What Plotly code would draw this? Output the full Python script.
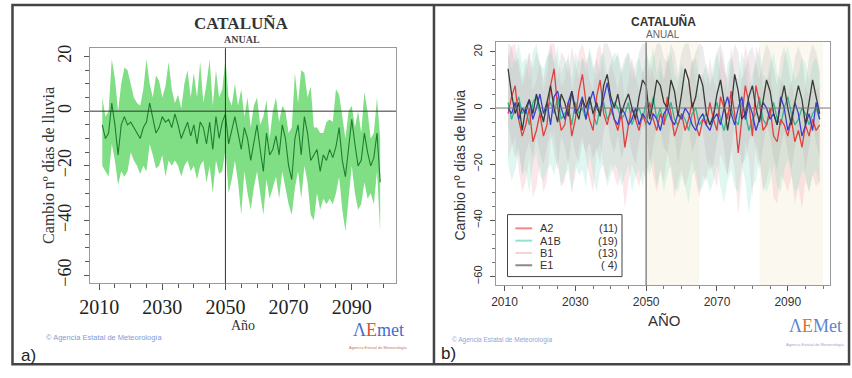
import plotly.graph_objects as go

years = list(range(2011, 2100))

# ---------- Panel a: ensemble mean and spread ----------
mean_a = [-5, -10, -8, 3, -5, -16, -5, -2, -5, -4,
          -6, -8, -10, -6, -4, 3, -3, -8, -6, -2,
          -4, -3, -6, -1, -5, -10, -7, -4, -9, -5,
          -12, -4, -6, -12, -4, -14, -2, -10, -4, -1,
          -12, -7, -2, -8, -14, -6, -10, -18, -12, -5,
          -14, -22, -8, -16, -14, -9, -16, -5, -10, -20,
          -25, -10, -5, -16, -2, -8, -18, -16, -14, -22,
          -16, -18, -14, -17, -13, -6, -18, -24, -14, -3,
          -12, -20, -18, -8, -15, -20, -17, -8, -26]
upper_a = [5, -2, 0, 19, 12, 0, 10, 16, 15, 10,
           5, 3, 2, 8, 19, 10, 5, 13, 11, 5,
           9, 18, 8, 3, 6, 1, 10, 15, 5, 14,
           5, 18, 3, 10, 19, 2, 15, 5, 8, 19,
           5, 2, 10, 2, 8, -2, 5, -6, 2, 5,
           -5, -2, 4, -10, 0, 5, -4, 2, 0, -8,
           -6, 14, 3, 15, 14, 5, 9, -6, -6, -8,
           -8, -4, -3, -4, 8, 6, -2, -10, 0, 2,
           -6, 0, -8, 7, 0, -10, -8, 5, -10]
lower_a = [-20, -22, -24, -12, -18, -27, -22, -24, -22, -15,
           -18, -20, -23, -20, -22, -12, -16, -21, -20, -16,
           -24, -18, -20, -18, -20, -24, -20, -18, -22, -20,
           -25, -20, -18, -26, -20, -30, -18, -23, -22, -14,
           -30, -25, -18, -26, -38, -22, -30, -36, -28, -22,
           -30, -38, -25, -32, -28, -24, -32, -22, -28, -34,
           -38, -28, -22, -32, -20, -26, -38, -40, -30, -36,
           -32, -34, -32, -34, -30, -24, -36, -44, -32, -20,
           -30, -36, -34, -26, -32, -30, -34, -22, -44]

# ---------- Panel b: scenario means ----------
a2_mean = [-2, 4, 8, -4, -10, -6, 0, -12, -8, -2,
           -10, -6, 8, 14, 0, -8, -6, 2, -10, -4,
           6, 12, 2, -4, -8, 4, 10, -2, -6, 0,
           -4, -8, -2, -14, -6, 0, -4, -8, -2, -6,
           2, -4, -8, -2, -6, 4, -2, -10, -6, -2,
           -8, -4, 2, -6, -10, -4, -6, 2, -4, -8,
           4, 0, -4, 6, -2, -16, -4, 8, 2, -10,
           8, 2, -8, -6, 0, -10, -12, -4, -6, -10,
           -4, -12, -8, -14, -6, -10, -4, -8, -6]
a1b_mean = [2, -4, 0, 4, -2, 0, -6, 2, 4, -2,
            -4, 0, 2, -2, 4, -4, -2, 0, -6, 2,
            -2, 0, -4, 4, -2, -6, 0, 2, -4, -2,
            2, 0, -4, -2, 2, -6, -2, 0, -4, 2,
            -2, 4, -4, 0, -6, -2, 2, -4, -6, -2,
            -4, -8, -2, 0, -6, -4, -2, -6, -2, 2,
            -4, -8, -2, 0, -4, -6, 2, -2, -8, -4,
            -2, 4, -4, -6, -2, 2, -4, -6, 0, 4,
            -2, -6, -4, 0, -2, -6, -2, 0, -4]
b1_mean = [0, -2, 2, -4, 0, -2, 3, -4, 0, 5,
           -2, 2, -6, 4, 6, 0, -4, 2, 6, -2,
           0, 4, -4, 2, 6, 0, -2, 4, 9, 2,
           -4, -6, 0, -2, -6, -4, 0, -6, -2, -4,
           -6, -2, -4, -8, -2, 0, -4, -6, -2, -4,
           0, -2, -6, -8, -4, -2, -6, -8, -4, -2,
           -6, 0, 4, -2, -6, 0, 4, -4, 2, -2,
           -8, -4, 2, 0, -4, -2, -6, 4, 0, -8,
           -4, 2, -2, -10, -6, -2, -8, 2, -4]
e1_mean = [14, 5, -2, 2, -8, 0, 3, -2, 5, 0,
           -5, 2, 8, 0, -5, 5, 2, -3, 6, 0,
           -4, 3, 0, 4, -2, 2, -3, 8, 12, 4,
           0, 5, -2, 2, 5, 0, -4, 4, 10, 8,
           -4, 2, 10, 8, 2, 0, 10, 6, -3, 5,
           14, 10, 0, 4, 12, 8, -2, -6, -3, 5,
           10, 2, -8, 0, 12, 6, -4, -2, 4, 8,
           0, -5, 2, 10, 6, -2, -6, 2, 8, 0,
           -6, 2, 8, 3, -6, 2, 10, 4, -2]

# ---------- Panel b: scenario spreads ----------
a2_hi = [18, 22, 23, 14, 8, 12, 20, 6, 10, 16,
         6, 12, 23, 23, 16, 8, 10, 20, 6, 12,
         20, 23, 18, 10, 6, 20, 23, 14, 8, 16,
         12, 6, 14, 2, 10, 18, 12, 6, 14, 10,
         16, 12, 6, 14, 10, 20, 12, 4, 8, 14,
         6, 10, 18, 10, 4, 12, 8, 18, 10, 6,
         20, 14, 10, 22, 12, 0, 10, 23, 16, 4,
         22, 18, 6, 8, 14, 2, 0, 10, 8, 4,
         10, 2, 6, 0, 8, 4, 10, 6, 8]
a2_lo = [-18, -14, -10, -22, -30, -26, -18, -32, -28, -20,
         -30, -26, -12, -8, -20, -28, -26, -18, -30, -24,
         -14, -10, -18, -24, -30, -16, -12, -22, -26, -20,
         -24, -28, -22, -36, -26, -20, -24, -28, -22, -26,
         -18, -24, -30, -22, -26, -16, -22, -32, -26, -22,
         -28, -24, -18, -26, -32, -24, -26, -18, -24, -28,
         -16, -20, -24, -14, -22, -38, -24, -12, -18, -32,
         -12, -18, -30, -26, -20, -32, -34, -24, -26, -30,
         -24, -34, -28, -36, -26, -30, -24, -28, -26]
a1b_hi = [20, 14, 18, 23, 16, 18, 10, 20, 23, 16,
          14, 18, 20, 16, 22, 12, 16, 18, 10, 20,
          16, 18, 12, 22, 16, 10, 18, 20, 12, 16,
          20, 18, 12, 16, 20, 10, 16, 18, 12, 20,
          16, 22, 12, 18, 10, 16, 20, 12, 10, 16,
          12, 6, 16, 18, 10, 12, 16, 10, 16, 20,
          12, 6, 16, 18, 12, 10, 20, 16, 6, 12,
          16, 22, 12, 10, 16, 20, 12, 10, 18, 22,
          16, 10, 12, 18, 16, 10, 16, 18, 12]
a1b_lo = [-20, -26, -22, -16, -24, -22, -30, -20, -16, -24,
          -26, -22, -20, -24, -18, -28, -24, -22, -30, -20,
          -24, -22, -28, -16, -24, -30, -22, -20, -28, -24,
          -20, -22, -28, -24, -20, -30, -24, -22, -28, -20,
          -24, -18, -28, -22, -30, -24, -20, -28, -30, -24,
          -28, -34, -24, -22, -30, -28, -24, -30, -26, -20,
          -28, -34, -26, -22, -28, -30, -20, -26, -38, -28,
          -26, -18, -28, -30, -26, -20, -28, -30, -22, -18,
          -24, -30, -28, -22, -24, -30, -24, -22, -28]
e1_hi = [23, 22, 16, 18, 10, 16, 20, 14, 20, 16,
         10, 18, 23, 16, 10, 20, 18, 12, 22, 16,
         10, 18, 16, 20, 14, 18, 12, 23, 23, 20,
         16, 20, 14, 18, 20, 16, 10, 20, 23, 23,
         10, 18, 23, 23, 18, 16, 23, 20, 12, 20,
         23, 23, 16, 20, 23, 22, 14, 8, 12, 20,
         23, 18, 6, 16, 23, 20, 10, 14, 20, 22,
         16, 10, 18, 23, 20, 14, 8, 18, 22, 16,
         8, 18, 22, 18, 8, 18, 23, 20, 14]
e1_lo = [-6, -12, -18, -14, -24, -16, -12, -18, -10, -16,
         -20, -14, -8, -16, -22, -10, -14, -20, -10, -16,
         -20, -12, -16, -12, -18, -14, -20, -8, -4, -12,
         -16, -10, -18, -14, -10, -16, -20, -12, -6, -8,
         -20, -14, -6, -8, -14, -16, -6, -10, -20, -12,
         -2, -6, -16, -12, -4, -8, -18, -22, -20, -12,
         -6, -14, -24, -16, -4, -10, -20, -18, -12, -8,
         -16, -22, -14, -6, -10, -18, -22, -14, -8, -16,
         -22, -14, -8, -12, -22, -14, -6, -12, -18]

scenarios = ["A2", "A1B", "B1", "E1"]
model_counts = ["(11)", "(19)", "(13)", "( 4)"]

y_ticks = [20, 0, -20, -40, -60]
x_ticks = [2010, 2030, 2050, 2070, 2090]

W, H = 852, 378
def px(x):
    return x / W
def py(y):
    return 1 - y / H

SERIF = "Liberation Serif, Times New Roman, serif"
SANS = "Liberation Sans, Arial, sans-serif"

fig = go.Figure()

# Panel a
fig.add_trace(go.Scatter(x=years, y=lower_a, mode="lines", line=dict(width=0, color="rgba(0,0,0,0)"),
                         xaxis="x", yaxis="y", hoverinfo="skip", showlegend=False))
fig.add_trace(go.Scatter(x=years, y=upper_a, mode="lines", line=dict(width=0, color="rgba(0,0,0,0)"),
                         fill="tonexty", fillcolor="rgb(128,222,132)",
                         xaxis="x", yaxis="y", hoverinfo="skip", showlegend=False))
fig.add_trace(go.Scatter(x=years, y=mean_a, mode="lines", line=dict(width=1.1, color="#1c7f30"),
                         xaxis="x", yaxis="y", showlegend=False))

# Panel b bands
band_specs = [(a2_lo, a2_hi, "rgba(245,165,175,0.28)"),
              (a1b_lo, a1b_hi, "rgba(140,225,200,0.28)"),
              (e1_lo, e1_hi, "rgba(170,170,170,0.22)")]
for lo, hi, col in band_specs:
    fig.add_trace(go.Scatter(x=years, y=lo, mode="lines", line=dict(width=0, color="rgba(0,0,0,0)"),
                             xaxis="x2", yaxis="y2", hoverinfo="skip", showlegend=False))
    fig.add_trace(go.Scatter(x=years, y=hi, mode="lines", line=dict(width=0, color="rgba(0,0,0,0)"),
                             fill="tonexty", fillcolor=col,
                             xaxis="x2", yaxis="y2", hoverinfo="skip", showlegend=False))

line_specs = [(a1b_mean, "#35b58f"), (a2_mean, "#e2403e"), (b1_mean, "#3b3fd0"), (e1_mean, "#3a3a3a")]
for vals, col in line_specs:
    fig.add_trace(go.Scatter(x=years, y=vals, mode="lines", line=dict(width=1.3, color=col),
                             xaxis="x2", yaxis="y2", showlegend=False))

axis_common = dict(showgrid=False, zeroline=False, showline=True, mirror=True,
                   linecolor="#9a9a9a", linewidth=1, ticks="outside", tickcolor="#555")

fig.update_layout(
    width=W, height=H, margin=dict(l=0, r=0, t=0, b=0),
    paper_bgcolor="white", plot_bgcolor="white",
    xaxis=dict(domain=[px(80), px(390)], anchor="y", range=[2007.1, 2104],
               tickmode="array", tickvals=x_ticks, ticklen=6,
               tickfont=dict(family=SERIF, size=20, color="#222"),
               minor=dict(dtick=5, tick0=2010, ticks="outside", ticklen=4, tickcolor="#555"),
               **axis_common),
    yaxis=dict(domain=[py(285), py(46)], anchor="x", range=[-63, 23],
               tickmode="array", tickvals=y_ticks, ticklen=5, tickangle=-90,
               ticklabelstandoff=6,
               tickfont=dict(family=SERIF, size=18, color="#222"),
               minor=dict(dtick=5, tick0=0, ticks="outside", ticklen=4, tickcolor="#555"),
               **axis_common),
    xaxis2=dict(domain=[px(491), px(830)], anchor="y2", range=[2007.5, 2102],
                tickmode="array", tickvals=x_ticks, ticklen=5,
                tickfont=dict(family=SANS, size=12, color="#333"),
                minor=dict(dtick=5, tick0=2010, ticks="outside", ticklen=3, tickcolor="#777"),
                **axis_common),
    yaxis2=dict(domain=[py(287), py(40)], anchor="x2", range=[-63.2, 23.4],
                tickmode="array", tickvals=y_ticks, ticklen=5, tickangle=-90,
                ticklabelstandoff=3,
                tickfont=dict(family=SANS, size=11, color="#333"),
                minor=dict(dtick=5, tick0=0, ticks="outside", ticklen=3, tickcolor="#777"),
                **axis_common),
)

shapes = []
shapes.append(dict(type="line", xref="x domain", yref="y", x0=0, x1=1, y0=0, y1=0,
                   line=dict(color="#333", width=1)))
shapes.append(dict(type="line", xref="x", yref="y domain", x0=2050, x1=2050, y0=0, y1=1,
                   line=dict(color="#333", width=1)))
for x0, x1 in [(2050, 2065), (2082, 2100)]:
    shapes.append(dict(type="rect", xref="x2", yref="y2 domain", x0=x0, x1=x1, y0=0, y1=1,
                       fillcolor="#fbf9ef", line=dict(width=0), layer="below"))
shapes.append(dict(type="line", xref="x2 domain", yref="y2", x0=0, x1=1, y0=0, y1=0,
                   line=dict(color="#777", width=1)))
shapes.append(dict(type="line", xref="x2", yref="y2 domain", x0=2050, x1=2050, y0=0, y1=1,
                   line=dict(color="#888", width=1.5)))
shapes.append(dict(type="rect", xref="paper", yref="paper", x0=px(1.5), x1=px(849), y0=py(367), y1=py(2),
                   line=dict(color="#444", width=2.5)))
shapes.append(dict(type="line", xref="paper", yref="paper", x0=px(428.5), x1=px(428.5), y0=py(367), y1=py(2),
                   line=dict(color="#444", width=2.5)))
shapes.append(dict(type="rect", xref="paper", yref="paper", x0=px(503), x1=px(619), y0=py(278), y1=py(215),
                   line=dict(color="#444", width=1), fillcolor="white"))
legend_cols = ["#f2868c", "#8fe3cf", "#f6d3d3", "#8a8a8a"]
legend_rows = [229, 241.5, 254, 266.5]
for col, ry in zip(legend_cols, legend_rows):
    shapes.append(dict(type="line", xref="paper", yref="paper", x0=px(511), x1=px(528), y0=py(ry), y1=py(ry),
                       line=dict(color=col, width=2)))
fig.update_layout(shapes=shapes)

ann = []
def text(x, y, s, size, family, color="#222", xanchor="center", bold=False, angle=0):
    ann.append(dict(xref="paper", yref="paper", x=px(x), y=py(y), text=(f"<b>{s}</b>" if bold else s),
                    showarrow=False, xanchor=xanchor, yanchor="middle", textangle=angle,
                    font=dict(family=family, size=size, color=color)))

# Panel a texts
text(234, 21, "CATALUÑA", 17, SERIF, "#333", bold=True)
text(234, 37, "ANUAL", 10, SERIF, "#444", bold=True)
text(235, 328, "Año", 14, SERIF, "#333")
text(38, 165, "Cambio nº días de lluvia", 16, SERIF, "#333", angle=-90)
text(33, 340, "© Agencia Estatal de Meteorología", 7.5, SANS, "#7f9bd6", xanchor="left")
ann.append(dict(xref="paper", yref="paper", x=px(372), y=py(332), showarrow=False,
                text="<span style='color:#3f6fd0'>Λ</span><span style='color:#e0502e'>E</span><span style='color:#3f6fd0'>met</span>",
                font=dict(family=SERIF, size=18, color="#3f6fd0"), xanchor="center", yanchor="middle"))
text(372, 350, "Agencia Estatal de Meteorología", 4, SANS, "#c07a60")
text(8, 358, "a)", 17, SANS, "#222", xanchor="left")

# Panel b texts
text(661, 19, "CATALUÑA", 12, SANS, "#333", bold=True)
text(661, 32, "ANUAL", 10, SANS, "#666")
text(662, 323, "AÑO", 15, SANS, "#333")
text(455, 165, "Cambio nº días de lluvia", 14, SANS, "#333", angle=-90)
text(445, 342, "© Agencia Estatal de Meteorología", 6.5, SANS, "#8fa6d8", xanchor="left")
ann.append(dict(xref="paper", yref="paper", x=px(815), y=py(328), showarrow=False,
                text="<span style='color:#5a86d0'>Λ</span><span style='color:#e0702e'>E</span><span style='color:#5a86d0'>Met</span>",
                font=dict(family=SERIF, size=18, color="#5a86d0"), xanchor="center", yanchor="middle"))
text(815, 347, "Agencia Estatal de Meteorología", 4, SANS, "#9aa8c8")
text(434, 356, "b)", 17, SANS, "#222", xanchor="left")

for name, cnt, ry in zip(scenarios, model_counts, legend_rows):
    text(534, ry, name, 11, SANS, "#333", xanchor="left")
    text(617, ry, cnt, 11, SANS, "#333", xanchor="right")

fig.update_layout(annotations=ann)
fig.write_html("out.html")
